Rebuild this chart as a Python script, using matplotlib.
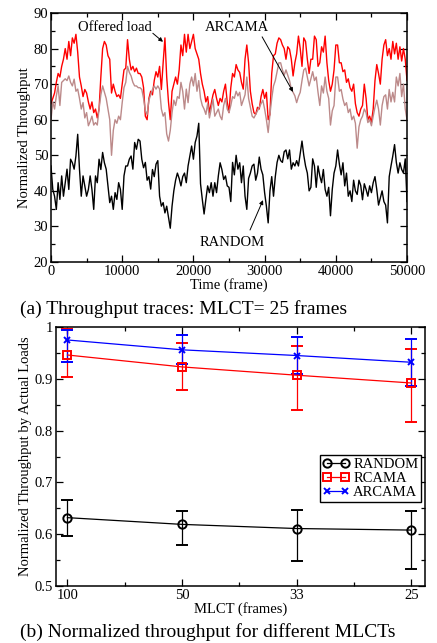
import numpy as np
import matplotlib
matplotlib.use("Agg")
import matplotlib.pyplot as plt
from matplotlib.ticker import MultipleLocator, FixedLocator

plt.rcParams['font.family'] = ['Liberation Serif', 'DejaVu Serif']
plt.rcParams['mathtext.fontset'] = 'stix'
plt.rcParams['font.size'] = 10.5

# (a) throughput traces, one sample every 250 frames
offered_load = [
    64.5, 66, 67.5, 70.5, 73, 72, 75, 77, 80, 77,
    82, 78, 83, 81.5, 84, 79, 72, 69.5, 66.5, 68.5,
    67.5, 65, 63, 65, 62, 63, 60.5, 63, 72, 80,
    82, 81, 78, 77, 67.5, 70, 68, 66.5, 67, 66,
    70, 74, 74.5, 82.5, 77, 74, 75, 73.5, 74.5, 73,
    73, 72, 69, 61, 60, 66, 68, 67, 71, 73.5,
    72, 75, 68.5, 76, 83, 72, 65, 60, 68, 70,
    72, 70, 74, 81, 78, 84, 79, 84, 80, 82,
    84, 80, 78.5, 77, 73, 70, 68, 65, 66.5, 62,
    64.5, 67, 68.5, 66, 64, 66, 65, 68, 70, 65,
    62, 69, 73, 72, 75.5, 74, 73.3, 70.5, 68.6, 77,
    81, 76, 68, 64.5, 62, 61.5, 63.5, 63, 66.5, 68.5,
    66, 67.7, 60, 61.5, 73, 78, 78.5, 81.5, 83, 82.5,
    81, 80, 77, 80.5, 79.8, 77, 72.3, 76, 78.5, 83.5,
    80, 75, 83, 82, 77, 73, 77, 77, 83.5, 82.5,
    75, 76, 80.5, 79, 83.5, 76, 71, 68, 70, 74,
    81, 81, 76, 76, 73.5, 74, 70.5, 71.5, 69, 68,
    70, 64.5, 62, 61, 63, 64, 70, 66, 60, 61,
    59.2, 63, 71, 75.5, 73, 70, 77, 81, 82.5, 78,
    80, 77, 82, 78.5, 81.5, 77, 80.5, 76.5, 80, 77,
    71]
arcama_trace = [
    60, 65, 63, 66.7, 69.5, 64, 70.5, 71, 71.5, 71,
    72.3, 70.5, 69.5, 71.4, 68, 68.6, 66, 63, 64.8, 60.5,
    62, 58.3, 59.5, 61, 58.5, 59.2, 58.5, 63, 67, 69.5,
    67.7, 66, 63, 60, 50, 57, 60, 59, 61, 60,
    64.8, 69, 70.5, 75, 73.3, 72.3, 70.5, 69.5, 69.5, 69,
    69, 68.5, 66, 62.5, 61.5, 65.5, 67, 68.5, 69.5, 68.6,
    69.5, 68.6, 63, 61, 62, 56, 54, 57, 62, 65.5,
    64, 66.5, 66, 70.5, 68, 63, 68.6, 64.8, 70, 72,
    69.5, 73, 68, 71, 66, 64, 63, 61.5, 64.5, 60.5,
    63, 65.8, 61, 62, 63, 61, 60, 64, 66, 63,
    62, 64, 66.5, 66, 68, 66.7, 67.7, 64, 65.5, 67,
    72, 66, 63.5, 61, 60.5, 61.5, 62.5, 63.5, 64.5, 65.5,
    63, 60, 56.4, 61.5, 66, 69.5, 71, 73.5, 76, 76,
    74, 72.5, 74, 72.5, 71, 68.6, 67.7, 66.7, 64.8, 66.5,
    67.7, 71, 74, 74.5, 72, 69.5, 71.5, 73.5, 71, 72,
    67.7, 64, 69.5, 67.5, 72, 68, 66, 58.5, 62.5, 64,
    72, 72, 68, 68.5, 65.8, 64, 64.8, 62, 63, 60,
    61, 59, 52, 58, 60, 61, 63, 62, 59.2, 60,
    58.3, 61, 63.5, 65.5, 63, 58.5, 64, 66.5, 67, 63,
    68.5, 65, 67.7, 65, 72, 69.5, 73, 66.5, 70, 63,
    60]
random_trace = [
    47, 40.4, 38.5, 34.8, 42.3, 37.6, 44.2, 38.5, 42.3, 46.1,
    40.4, 48.9, 47.9, 46.1, 49.8, 55.9, 46.1, 38.5, 44.2, 41.4,
    38.5, 40.4, 44.2, 40.4, 34.8, 44.2, 42.3, 48.9, 46, 50.8,
    47.9, 46.1, 41.4, 36.7, 38.5, 34.8, 39.5, 37.6, 42.3, 40.4,
    34.8, 44.2, 47, 47, 48.9, 49.8, 46.1, 53.6, 51.7, 54.5,
    54, 48.9, 46.5, 48, 43, 44, 40.5, 46, 44, 47.5,
    48.5, 38.5, 35.7, 36.7, 33.8, 35.7, 32.5, 29.5, 35.7, 40,
    43, 45, 43.5, 41.4, 44, 45, 42.3, 47, 49.8, 52.6,
    48.9, 53.6, 55.4, 59, 42, 37.6, 33.5, 37.6, 41.4, 39.5,
    42.3, 38.5, 42.3, 39.5, 44.2, 47.9, 46, 43.2, 44.2, 41.4,
    41, 37, 48, 44.5, 50, 46.1, 47.9, 42.3, 47, 38.5,
    34.8, 43.5, 45, 47, 47.5, 43, 45, 49.5, 46.1, 44.5,
    39.5, 35.7, 31, 40, 44, 38.5, 44, 48, 50, 48.5,
    48, 51, 51.5, 49, 51.5, 46.1, 47.9, 47, 48.5, 47,
    50.5, 54, 50, 47, 45, 40, 41, 49, 47, 41,
    47, 44.2, 42.3, 46, 40.4, 38.5, 41, 33, 40.4, 45,
    47, 51.5, 47.5, 44.5, 47.9, 41.4, 45, 38.5, 40, 37,
    43, 40, 39, 43, 41.5, 37.5, 42, 40.4, 38.5, 41.4,
    39.5, 42.3, 44, 40.4, 36, 38, 40, 37, 36, 31,
    44, 47, 49.8, 53, 48, 45, 47.9, 46, 45, 49,
    37]
frames = np.arange(len(offered_load)) * 250

# (b) normalized throughput vs MLCT
mlct_labels = ['100', '50', '33', '25']
random_mean = [0.632, 0.619, 0.611, 0.608]
random_lo = [0.597, 0.579, 0.549, 0.533]
random_hi = [0.666, 0.645, 0.647, 0.645]
rcama_mean = [0.946, 0.923, 0.907, 0.892]
rcama_lo = [0.903, 0.878, 0.840, 0.817]
rcama_hi = [0.996, 0.970, 0.963, 0.958]
arcama_mean = [0.975, 0.956, 0.945, 0.932]
arcama_lo = [0.932, 0.928, 0.909, 0.887]
arcama_hi = [0.995, 0.984, 0.981, 0.977]

fig = plt.figure(figsize=(4.37, 6.43), dpi=100)
ax1 = fig.add_axes([0.1167, 0.5925, 0.8147, 0.3873])
ax2 = fig.add_axes([0.1281, 0.0886, 0.8444, 0.4028])

for ax in (ax1, ax2):
    ax.tick_params(which='both', direction='in', top=True, right=True,
                   width=0.9, labelsize=10.5, pad=2)
    ax.tick_params(which='major', length=5)
    ax.tick_params(which='minor', length=3)
    for s in ax.spines.values():
        s.set_linewidth(1.1)

# ---- top panel
ax1.plot(frames, offered_load, color='#ff0000', lw=1.0)
ax1.plot(frames, arcama_trace, color='#bc8a8a', lw=1.0)
ax1.plot(frames, random_trace, color='black', lw=1.0)
ax1.set_xlim(0, 50000)
ax1.set_ylim(20, 90)
ax1.xaxis.set_major_locator(MultipleLocator(10000))
ax1.xaxis.set_minor_locator(MultipleLocator(5000))
ax1.yaxis.set_major_locator(MultipleLocator(10))
ax1.yaxis.set_minor_locator(MultipleLocator(5))
ax1.set_xlabel('Time (frame)', labelpad=0)
ax1.set_ylabel('Normalized Throughput', labelpad=2)

arrow = dict(arrowstyle='-|>', lw=0.7, color='black', mutation_scale=6,
             shrinkA=0, shrinkB=0)
ax1.text(8990, 85.8, 'Offered load', ha='center', va='center')
ax1.annotate('', xy=(15730, 81.9), xytext=(14300, 84.3), arrowprops=arrow)
ax1.text(26120, 85.8, 'ARCAMA', ha='center', va='center')
ax1.annotate('', xy=(33990, 67.8), xytext=(29650, 83.3), arrowprops=arrow)
ax1.text(25420, 25.6, 'RANDOM', ha='center', va='center')
ax1.annotate('', xy=(29775, 37.4), xytext=(27950, 29.0), arrowprops=arrow)

# ---- bottom panel
x = np.arange(len(mlct_labels))
series = [
    ('RANDOM', random_mean, random_lo, random_hi, 'black', 'o', 6),
    ('RCAMA', rcama_mean, rcama_lo, rcama_hi, '#ff0000', 's', 5.5),
    ('ARCAMA', arcama_mean, arcama_lo, arcama_hi, '#0000ff', 'x', 4.5),
]
handles = []
for name, m, lo, hi, c, mk, ms in series:
    m = np.array(m)
    yerr = [m - np.array(lo), np.array(hi) - m]
    eb = ax2.errorbar(x, m, yerr=yerr, color=c, ecolor=c, lw=0.9, elinewidth=0.9,
                      capsize=4, capthick=0.9, marker=mk, ms=ms, mfc='none',
                      mec=c, mew=1.4, label=name)
    handles.append(eb[0])
ax2.set_xlim(-0.1, 3.12)
ax2.set_ylim(0.5, 1.0)
ax2.xaxis.set_major_locator(FixedLocator(x))
ax2.xaxis.set_minor_locator(MultipleLocator(0.5))
ax2.set_xticklabels(mlct_labels)
ax2.yaxis.set_major_locator(MultipleLocator(0.1))
ax2.yaxis.set_minor_locator(MultipleLocator(0.05))
ax2.yaxis.set_major_formatter(plt.FuncFormatter(lambda v, p: '1' if v == 1 else f'{v:.1f}'))
ax2.set_xlabel('MLCT (frames)', labelpad=0)
ax2.set_ylabel('Normalized Throughput by Actual Loads', labelpad=2)
leg = ax2.legend(handles, [s[0] for s in series], loc='lower right',
                 bbox_to_anchor=(0.99, 0.324), borderaxespad=0,
                 numpoints=2, handlelength=1.8, handletextpad=0.3, labelspacing=0.05,
                 borderpad=0.2, fancybox=False, framealpha=1, edgecolor='black')
leg.get_frame().set_linewidth(1.0)

fig.text(0.046, 0.519, '(a) Throughput traces: MLCT= 25 frames', fontsize=14,
         va='center', ha='left')
fig.text(0.046, 0.017, '(b) Normalized throughput for different MLCTs', fontsize=14,
         va='center', ha='left')

fig.savefig('out.png', dpi=100)
